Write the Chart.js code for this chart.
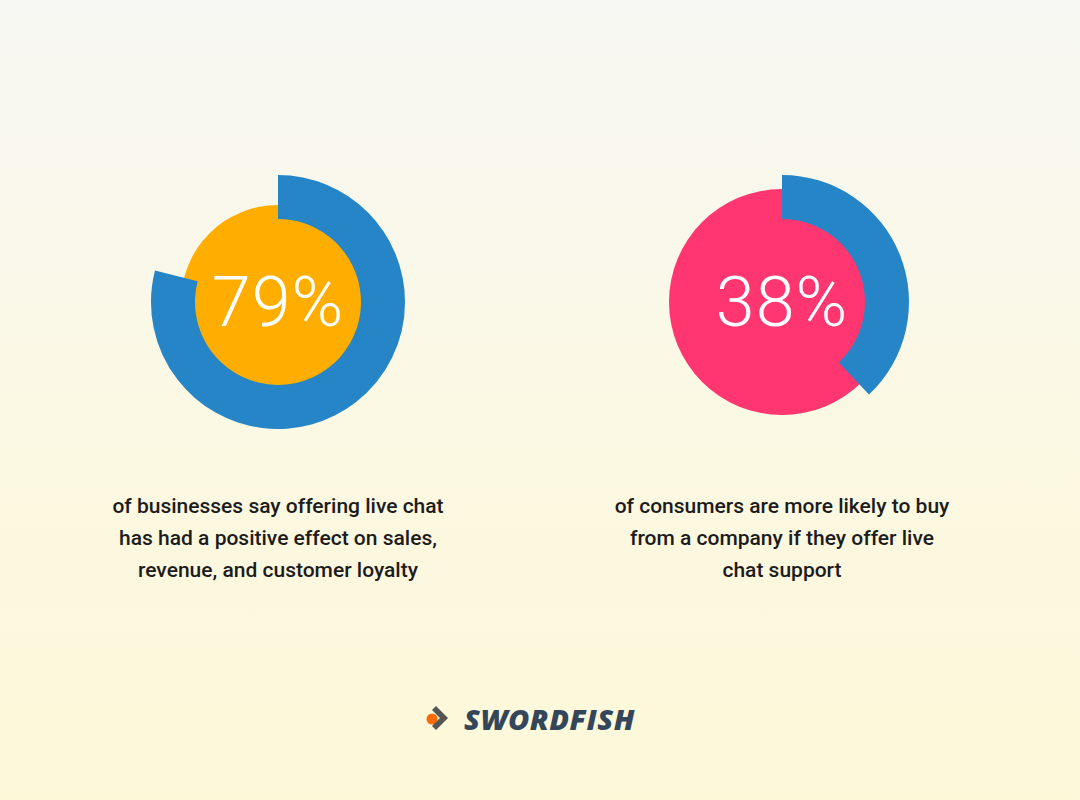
<!DOCTYPE html>
<html><head><meta charset="utf-8">
<script src="https://cdn.jsdelivr.net/npm/chart.js@4"></script>
<style>
body{margin:0;width:1080px;height:800px;overflow:hidden;font-family:Roboto,sans-serif;
 background:linear-gradient(#f7f7f3 0%,#fbf8e4 50%,#fdf8d8 100%);position:relative}
.panel{position:absolute;top:152px;width:300px;height:300px}
.panel canvas{position:absolute;left:0;top:0}
.pct{position:absolute;left:0;top:0;width:300px;line-height:300px;text-align:center;color:#fff;font-weight:300;font-size:70px;letter-spacing:1px}
.cap{position:absolute;top:490px;width:460px;text-align:center;font-weight:500;font-size:21px;line-height:32px;color:#1c1c1c}
.logo{position:absolute;left:424px;top:698px;height:40px;display:flex;align-items:center}
.logo .t{font-family:"Open Sans",sans-serif;font-weight:800;font-style:italic;font-size:29px;color:#34465a;margin-left:8px;letter-spacing:0.5px}
</style></head><body>
<div class="panel" id="p0" style="left:128px"></div>
<div class="panel" id="p1" style="left:632px"></div>
<div class="cap" style="left:48px">of businesses say offering live chat<br>has had a positive effect on sales,<br>revenue, and customer loyalty</div>
<div class="cap" style="left:552px">of consumers are more likely to buy<br>from a company if they offer live<br>chat support</div>
<div class="logo">
 <svg width="32" height="40" viewBox="0 0 32 40"><circle cx="8" cy="21" r="5.5" fill="#ff6a00"/><path d="M12 8 L24 20 L12 32 L8 28 L16 20 L8 12 Z" fill="#555"/></svg>
 <span class="t">SWORDFISH</span>
</div>
<script>
const labels = ['79%', '38%'];
const shares = [79, 38];
const fillColors = ['#ffae00', '#ff3670'];
const fillRadius = [97, 113];
const ringBlue = '#2585c6';

function makePanel(i) {
  const host = document.getElementById('p' + i);
  const c1 = document.createElement('canvas');
  const c2 = document.createElement('canvas');
  host.appendChild(c1); host.appendChild(c2);
  const base = {responsive: false, animation: false, events: [],
    plugins: {legend: {display: false}, tooltip: {enabled: false}}};
  c1.width = c2.width = 300; c1.height = c2.height = 300;
  new Chart(c1, {type: 'pie',
    data: {datasets: [{data: [100], backgroundColor: [fillColors[i]], borderWidth: 0}]},
    options: Object.assign({radius: fillRadius[i]}, base)});
  new Chart(c2, {type: 'doughnut',
    data: {datasets: [{data: [shares[i], 100 - shares[i]], backgroundColor: [ringBlue, 'rgba(0,0,0,0)'], borderWidth: 0}]},
    options: Object.assign({radius: 127, cutout: 98}, base)});
  const t = document.createElement('div');
  t.className = 'pct'; t.textContent = labels[i];
  host.appendChild(t);
}
makePanel(0); makePanel(1);
</script>
</body></html>
